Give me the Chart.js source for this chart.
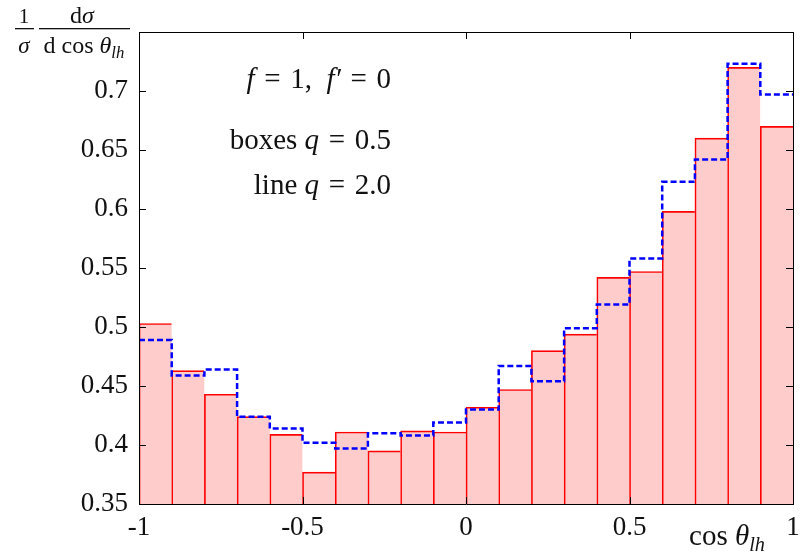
<!DOCTYPE html>
<html>
<head>
<meta charset="utf-8">
<script src="https://cdn.jsdelivr.net/npm/chart.js@4"></script>
<style>
  html, body { margin: 0; padding: 0; background: #fff; }
  #wrap { width: 804px; height: 555px; }
</style>
</head>
<body>
<div id="wrap"><canvas id="c" width="804" height="555"></canvas></div>
<script>
// bin edges of cos(theta_lh), 20 bins
var binEdges = [-1, -0.9, -0.8, -0.7, -0.6, -0.5, -0.4, -0.3, -0.2, -0.1, 0,
                0.1, 0.2, 0.3, 0.4, 0.5, 0.6, 0.7, 0.8, 0.9, 1];
// boxes, q = 0.5
var boxValues = [0.503, 0.463, 0.443, 0.424, 0.409, 0.377, 0.411, 0.395, 0.412, 0.411,
                 0.432, 0.447, 0.480, 0.494, 0.542, 0.547, 0.598, 0.660, 0.720, 0.670];
// line, q = 2.0
var lineValues = [0.489, 0.459, 0.464, 0.424, 0.414, 0.402, 0.397, 0.410, 0.408, 0.419,
                  0.430, 0.467, 0.454, 0.499, 0.519, 0.558, 0.623, 0.642, 0.723, 0.697];
var xTicks = [-1, -0.5, 0, 0.5, 1];
var yTicks = [0.35, 0.4, 0.45, 0.5, 0.55, 0.6, 0.65, 0.7];

var SERIF = '"Liberation Serif", "DejaVu Serif", serif';
var EQ = '\u2004=\u2004';

var boxData = [];
for (var i = 0; i < boxValues.length; i++) {
    boxData.push({ x: (binEdges[i] + binEdges[i + 1]) / 2, y: boxValues[i] });
}
var lineData = [];
for (var j = 0; j < binEdges.length; j++) {
    lineData.push({ x: binEdges[j], y: lineValues[Math.min(j, lineValues.length - 1)] });
}

// draw a list of text runs (roman / italic / subscript) starting at x
function drawRuns(ctx, runs, x, y, size, align) {
    var total = 0;
    runs.forEach(function (r) {
        var s = r.sub ? size * 0.7 : size;
        ctx.font = (r.it ? 'italic ' : '') + s + 'px ' + SERIF;
        r.w = ctx.measureText(r.t).width;
        total += r.w;
    });
    var cx = x;
    if (align == 'right') cx = x - total;
    if (align == 'center') cx = x - total / 2;
    runs.forEach(function (r) {
        var s = r.sub ? size * 0.7 : size;
        ctx.font = (r.it ? 'italic ' : '') + s + 'px ' + SERIF;
        ctx.textAlign = 'left';
        ctx.textBaseline = 'alphabetic';
        ctx.fillText(r.t, cx, r.sub ? y + size * 0.22 : y);
        cx += r.w;
    });
    return total;
}

var decorations = {
    id: 'decorations',
    afterDraw: function (chart) {
        var ctx = chart.ctx;
        var a = chart.chartArea;
        var xs = chart.scales.x, ys = chart.scales.y;
        ctx.save();
        // frame
        ctx.strokeStyle = '#000';
        ctx.lineWidth = 1;
        ctx.beginPath();
        ctx.moveTo(a.left + 0.5, a.bottom);
        ctx.lineTo(a.left + 0.5, a.top + 0.5);
        ctx.lineTo(a.right + 0.5, a.top + 0.5);
        ctx.lineTo(a.right + 0.5, a.bottom);
        ctx.stroke();
        // inward ticks
        ctx.beginPath();
        xTicks.forEach(function (v) {
            var px = Math.round(xs.getPixelForValue(v)) + 0.5;
            ctx.moveTo(px, a.bottom); ctx.lineTo(px, a.bottom - 7);
            ctx.moveTo(px, a.top); ctx.lineTo(px, a.top + 7);
        });
        yTicks.forEach(function (v) {
            var py = Math.round(ys.getPixelForValue(v)) + 0.5;
            ctx.moveTo(a.left, py); ctx.lineTo(a.left + 7, py);
            ctx.moveTo(a.right, py); ctx.lineTo(a.right - 7, py);
        });
        ctx.stroke();

        ctx.fillStyle = '#111';
        // annotation text
        drawRuns(ctx, [{ t: 'f', it: true }, { t: EQ + '1,\u2002' }, { t: 'f\u2032', it: true }, { t: EQ + '0' }], 391, 88, 29, 'right');
        drawRuns(ctx, [{ t: 'boxes ' }, { t: 'q', it: true }, { t: EQ + '0.5' }], 391, 149, 29, 'right');
        drawRuns(ctx, [{ t: 'line ' }, { t: 'q', it: true }, { t: EQ + '2.0' }], 391, 194, 29, 'right');

        // y axis title: 1/sigma dsigma/dcos(theta_lh)
        drawRuns(ctx, [{ t: '1' }], 24, 23, 21, 'center');
        drawRuns(ctx, [{ t: '\u03c3', it: true }], 24, 53, 23, 'center');
        drawRuns(ctx, [{ t: 'd' }, { t: '\u03c3', it: true }], 82, 23, 24, 'center');
        drawRuns(ctx, [{ t: 'd cos ' }, { t: '\u03b8', it: true }, { t: 'lh', it: true, sub: true }], 84, 53, 24, 'center');
        ctx.fillRect(15, 28, 19, 1.3);
        ctx.fillRect(39, 28, 91, 1.3);

        // x axis title
        drawRuns(ctx, [{ t: 'cos ' }, { t: '\u03b8', it: true }, { t: 'lh', it: true, sub: true }], 727, 545, 29, 'center');
        ctx.restore();
    }
};

new Chart(document.getElementById('c').getContext('2d'), {
    data: {
        datasets: [{
            type: 'line',
            label: 'line q = 2.0',
            data: lineData,
            borderColor: '#0000ff',
            borderWidth: 2.5,
            borderDash: [6, 3],
            stepped: 'before',
            pointRadius: 0,
            fill: false,
            order: 0
        }, {
            type: 'bar',
            label: 'boxes q = 0.5',
            data: boxData,
            backgroundColor: 'rgba(255,0,0,0.2)',
            borderColor: '#ff0000',
            borderWidth: { top: 1, left: 1, right: 0, bottom: 0 },
            borderSkipped: false,
            barPercentage: 1,
            categoryPercentage: 1,
            order: 1
        }]
    },
    options: {
        responsive: false,
        animation: false,
        layout: { padding: { left: 0, right: 11, top: 32, bottom: 0 } },
        plugins: { legend: { display: false }, tooltip: { enabled: false } },
        scales: {
            x: {
                type: 'linear',
                min: -1,
                max: 1,
                offset: false,
                grid: { display: false },
                border: { display: true, color: '#000', width: 1 },
                ticks: {
                    stepSize: 0.5,
                    padding: 0,
                    color: '#111',
                    font: { family: SERIF, size: 27 },
                    callback: function (v) { return Number(v.toFixed(2)).toString(); }
                },
                afterFit: function (s) { s.height = 51; }
            },
            y: {
                min: 0.35,
                max: 0.75,
                grid: { display: false },
                border: { display: true, color: '#000', width: 1 },
                ticks: {
                    stepSize: 0.05,
                    padding: 3,
                    color: '#111',
                    font: { family: SERIF, size: 27 },
                    callback: function (v) {
                        if (v > 0.74) return '';
                        return Number(v.toFixed(2)).toString();
                    }
                },
                afterFit: function (s) { s.width = 139; }
            }
        }
    },
    plugins: [decorations]
});
</script>
</body>
</html>
